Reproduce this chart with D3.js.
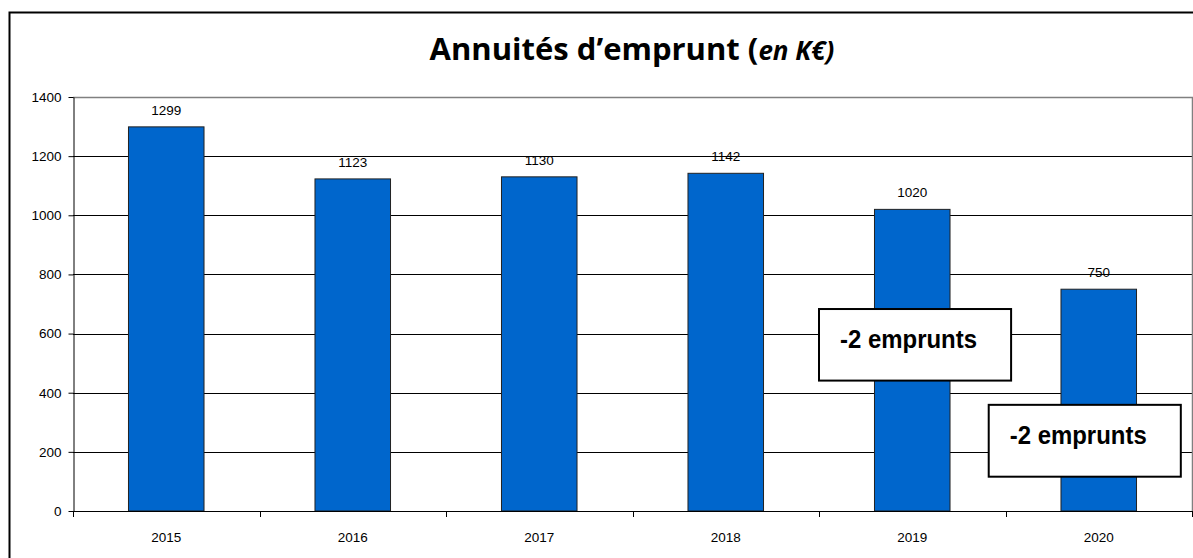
<!DOCTYPE html>
<html lang="fr">
  <head>
    <meta charset="UTF-8" />
    <title>Annuités d'emprunt</title>
    <style>
      body { margin: 0; background: #fff; }
      text { font-family: "Liberation Sans", Arial, sans-serif; }
    </style>
    <script src="https://d3js.org/d3.v7.min.js"></script>
  </head>
  <body>
    <svg width="1193" height="558"></svg>
    <script>
      var years = ["2015", "2016", "2017", "2018", "2019", "2020"];
      var values = [1299, 1123, 1130, 1142, 1020, 750];
      var yTicks = [0, 200, 400, 600, 800, 1000, 1200, 1400];
      // annotation boxes: band units on x, data values on y
      var noteText = ["-2 emprunts", "-2 emprunts"];
      var noteX = [[4.0, 5.03], [4.91, 5.94]];
      var noteY = [[683, 441], [359, 116]];

      window.onload = function () {
        var svg = d3.select("svg");
        var width = +svg.attr("width");
        var height = +svg.attr("height");
        var pLeft = 73, pRight = 1192, pTop = 97, pBottom = 511;

        svg.append("rect")
          .attr("x", 9.5).attr("y", 12.5)
          .attr("width", width + 20).attr("height", height + 20)
          .attr("fill", "#fff").attr("stroke", "#000").attr("stroke-width", 2);

        var title = svg.append("text")
          .attr("x", 632).attr("y", 60)
          .attr("text-anchor", "middle")
          .style("font-family", "'Open Sans', Lato, sans-serif")
          .style("font-weight", "bold")
          .style("font-size", "31px");
        title.append("tspan").text("Annuités d\u2019emprunt (");
        title.append("tspan").style("font-style", "italic").style("font-size", "26px").text("en K€)");

        var x = d3.scaleBand().domain(years).range([pLeft, pRight]).padding(0);
        var y = d3.scaleLinear().domain([0, 1400]).range([pBottom, pTop]);
        var bw = x.bandwidth() * 0.405;

        // grid
        svg.append("g").selectAll("line")
          .data(yTicks.filter((d) => d > 0 && d < 1400))
          .join("line")
          .attr("x1", pLeft).attr("x2", pRight)
          .attr("y1", (d) => Math.round(y(d)) + 0.5)
          .attr("y2", (d) => Math.round(y(d)) + 0.5)
          .attr("stroke", "#000").attr("stroke-width", 1);

        // plot frame top + right (grey)
        svg.append("path")
          .attr("d", "M" + pLeft + "," + (pTop + 0.5) + "H" + (pRight + 0.5) + "V" + pBottom)
          .attr("fill", "none").attr("stroke", "#808080").attr("stroke-width", 1.5);

        // bars
        svg.append("g").selectAll("rect")
          .data(values)
          .join("rect")
          .attr("x", (d, i) => x(years[i]) + (x.bandwidth() - bw) / 2)
          .attr("y", (d) => y(d))
          .attr("width", bw)
          .attr("height", (d) => y(0) - y(d))
          .attr("fill", "#0066CC")
          .attr("stroke", "#222").attr("stroke-width", 1);

        // value labels
        svg.append("g").selectAll("text")
          .data(values)
          .join("text")
          .attr("x", (d, i) => x(years[i]) + x.bandwidth() / 2)
          .attr("y", (d) => y(d) - 12)
          .attr("text-anchor", "middle")
          .style("font-size", "13.5px")
          .attr("fill", "#000")
          .text((d) => d);

        // y axis
        var yAxis = svg.append("g")
          .attr("transform", "translate(" + (pLeft + 0.5) + ",0)")
          .call(d3.axisLeft(y).tickValues(yTicks).tickFormat(d3.format("d"))
            .tickSize(5).tickPadding(7).tickSizeOuter(0));
        yAxis.select(".domain").attr("stroke", "#000");
        yAxis.selectAll("text").style("font-size", "13.5px")
          .style("font-family", "'Liberation Sans', Arial, sans-serif");

        // x axis with ticks at category boundaries
        var xg = svg.append("g");
        xg.append("line")
          .attr("x1", pLeft).attr("x2", pRight)
          .attr("y1", pBottom + 0.5).attr("y2", pBottom + 0.5)
          .attr("stroke", "#000");
        var bounds = years.map((d) => x(d)).concat([x.range()[1]]);
        xg.selectAll("line.tick")
          .data(bounds)
          .join("line")
          .attr("class", "tick")
          .attr("x1", (d) => Math.round(d) + 0.5).attr("x2", (d) => Math.round(d) + 0.5)
          .attr("y1", pBottom).attr("y2", pBottom + 6)
          .attr("stroke", "#000");
        xg.selectAll("text")
          .data(years)
          .join("text")
          .attr("x", (d) => x(d) + x.bandwidth() / 2)
          .attr("y", 542)
          .attr("text-anchor", "middle")
          .style("font-size", "13.5px")
          .text((d) => d);

        // annotation boxes
        var xu = (u) => pLeft + u * x.step();
        var notes = svg.append("g").selectAll("g")
          .data(noteText)
          .join("g");
        notes.append("rect")
          .attr("x", (d, i) => xu(noteX[i][0]))
          .attr("y", (d, i) => y(noteY[i][0]))
          .attr("width", (d, i) => xu(noteX[i][1]) - xu(noteX[i][0]))
          .attr("height", (d, i) => y(noteY[i][1]) - y(noteY[i][0]))
          .attr("fill", "#fff").attr("stroke", "#000").attr("stroke-width", 2);
        notes.append("text")
          .attr("x", (d, i) => xu(noteX[i][0]) + 21)
          .attr("y", (d, i) => y(noteY[i][0]) + 39)
          .attr("textLength", 137)
          .attr("lengthAdjust", "spacingAndGlyphs")
          .style("font-size", "25.5px")
          .style("font-weight", "bold")
          .text((d) => d);
      };
    </script>
  </body>
</html>
